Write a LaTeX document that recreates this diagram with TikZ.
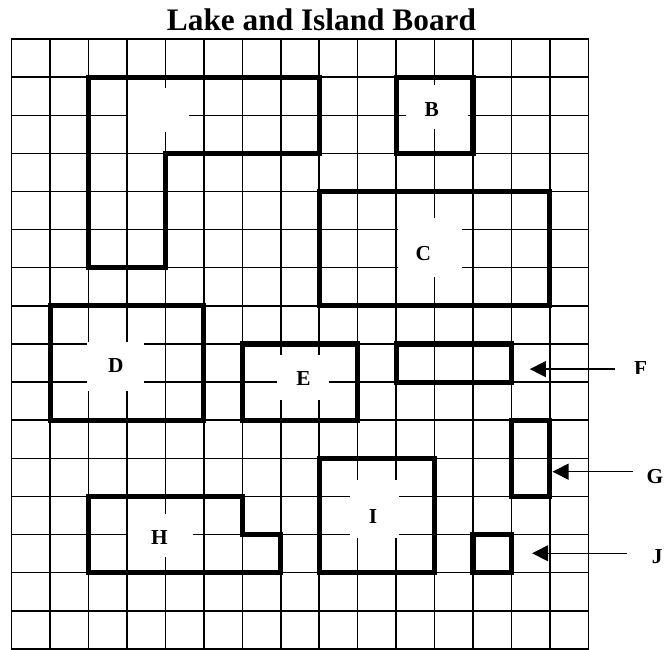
\documentclass[tikz,border=0pt]{standalone}
\usepackage{fontspec}
\setmainfont{Liberation Serif}
\usetikzlibrary{arrows.meta}
\begin{document}
\begin{tikzpicture}[x=28.83pt,y=-28.59pt]
\tikzstyle{grid}=[draw,line width=1.1pt,line cap=rect]
\tikzstyle{island}=[draw,line width=3.8pt]
\tikzstyle{patch}=[fill=white]
\tikzstyle{letter}=[anchor=base,font=\fontsize{16}{19}\selectfont\bfseries]
\tikzstyle{arrow}=[draw,line width=1pt,-{Triangle[length=12pt,width=12pt]}]
\useasboundingbox(-0.304,-1.023)rectangle(16.969,16.026);
\node[anchor=base,font=\fontsize{23.5}{28}\selectfont\bfseries](title)at(8.06,-0.21){Lake and Island Board};
% board
\foreach \i in {0,...,15}\path[grid](\i,0)--(\i,16);
\foreach \j in {0,...,16}\path[grid](0,\j)--(15,\j);
% white text boxes
\path[patch](3.03,1.29)rectangle(4.61,2.44);
\path[patch](10.26,1.21)rectangle(11.87,2.36);
\path[patch](10.05,4.70)rectangle(11.71,6.24);
\path[patch](1.96,7.95)rectangle(3.44,9.23);
\path[patch](6.90,8.29)rectangle(8.26,9.47);
\path[patch](3.03,12.46)rectangle(4.72,13.59);
\path[patch](8.80,11.57)rectangle(10.08,13.09);
% islands
\path[island](2,1)--(8,1)--(8,3)--(4,3)--(4,6)--(2,6)--cycle;
\path[island](10,1)rectangle(12,3);
\path[island](8,4)rectangle(14,7);
\path[island](1,7)rectangle(5,10);
\path[island](6,8)rectangle(9,10);
\path[island](10,8)rectangle(13,9);
\path[island](13,10)rectangle(14,12);
\path[island](2,12)--(6,12)--(6,13)--(7,13)--(7,14)--(2,14)--cycle;
\path[island](8,11)rectangle(11,14);
\path[island](12,13)rectangle(13,14);
% names
\node[letter](labB)at(10.93,2.02){B};
\node[letter](labC)at(10.71,5.80){C};
\node[letter](labD)at(2.71,8.76){D};
\node[letter](labE)at(7.59,9.08){E};
\node[letter](labH)at(3.84,13.27){H};
\node[letter](labI)at(9.40,12.70){I};
\begin{scope}
\clip(15.5,7.5)rectangle(17,8.77);
\node[letter](labF)at(16.36,8.84){F};
\end{scope}
\node[letter](labG)at(16.73,11.65){G};
\node[letter](labJ)at(16.79,13.77){J};
% pointers
\coordinate(tailF)at(15.69,8.66);\coordinate(tipF)at(13.48,8.66);
\coordinate(tailG)at(16.15,11.35);\coordinate(tipG)at(14.07,11.35);
\coordinate(tailJ)at(16.00,13.49);\coordinate(tipJ)at(13.54,13.49);
\path[arrow](tailF)--(tipF);
\path[arrow](tailG)--(tipG);
\path[arrow](tailJ)--(tipJ);
\end{tikzpicture}
\end{document}
